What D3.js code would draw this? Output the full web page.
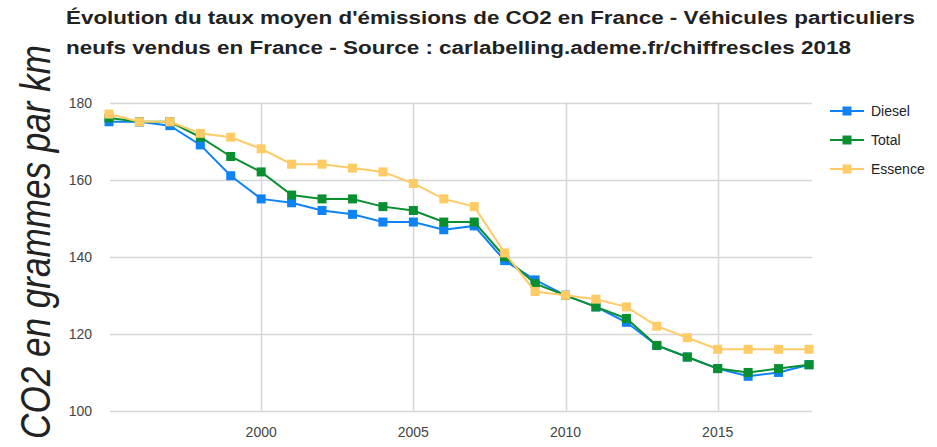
<!DOCTYPE html>
<html>
<head>
<meta charset="utf-8">
<script src="https://cdn.jsdelivr.net/npm/d3@7"></script>
<style>
  body { margin: 0; background: #fff; }
  svg { display: block; font-family: "Liberation Sans", Arial, sans-serif; }
</style>
</head>
<body>
<svg id="chart"></svg>
<script>
const width = 937;
const height = 447;

const years = [1995, 1996, 1997, 1998, 1999, 2000, 2001, 2002, 2003, 2004, 2005, 2006,
  2007, 2008, 2009, 2010, 2011, 2012, 2013, 2014, 2015, 2016, 2017, 2018];
const diesel = [175, 175, 174, 169, 161, 155, 154, 152, 151, 149, 149, 147,
  148, 139, 134, 130, 127, 123, 117, 114, 111, 109, 110, 112];
const total = [176, 175, 175, 171, 166, 162, 156, 155, 155, 153, 152, 149,
  149, 140, 133, 130, 127, 124, 117, 114, 111, 110, 111, 112];
const essence = [177, 175, 175, 172, 171, 168, 164, 164, 163, 162, 159, 155,
  153, 141, 131, 130, 129, 127, 122, 119, 116, 116, 116, 116];

const seriesNames = ["Diesel", "Total", "Essence"];
const seriesColors = ["#0f83f5", "#0a8f30", "#ffcb66"];
const yTicks = [100, 120, 140, 160, 180];
const xTicks = [2000, 2005, 2010, 2015];
const titleLines = [
  "Évolution du taux moyen d'émissions de CO2 en France - Véhicules particuliers",
  "neufs vendus en France - Source : carlabelling.ademe.fr/chiffrescles 2018"
];
const yTitle = "CO2 en grammes par km";

const series = [diesel, total, essence].map((vals, i) => ({
  name: seriesNames[i],
  color: seriesColors[i],
  values: vals.map((v, j) => ({ year: years[j], value: v }))
}));

const svg = d3.select("#chart").attr("width", width).attr("height", height);

const x = d3.scaleLinear().domain([1995, 2018]).range([109, 809]);
const y = d3.scaleLinear().domain([100, 180]).range([411, 102.5]);

// grid
svg.append("g")
  .selectAll("line")
  .data(yTicks)
  .join("line")
  .attr("x1", 110).attr("x2", 812)
  .attr("y1", d => Math.round(y(d)) + 0.5)
  .attr("y2", d => Math.round(y(d)) + 0.5)
  .attr("stroke", "#d6d6d6")
  .attr("stroke-width", 1.5);

svg.append("g")
  .selectAll("line")
  .data(xTicks)
  .join("line")
  .attr("x1", d => Math.round(x(d)) + 0.5)
  .attr("x2", d => Math.round(x(d)) + 0.5)
  .attr("y1", 102.5).attr("y2", 411)
  .attr("stroke", "#d6d6d6")
  .attr("stroke-width", 1.5);

// tick labels
svg.append("g")
  .selectAll("text")
  .data(yTicks)
  .join("text")
  .attr("x", 92)
  .attr("y", d => y(d) + 5)
  .attr("text-anchor", "end")
  .attr("font-size", 14)
  .attr("fill", "#444")
  .text(d => d);

svg.append("g")
  .selectAll("text")
  .data(xTicks)
  .join("text")
  .attr("x", d => x(d))
  .attr("y", 437)
  .attr("text-anchor", "middle")
  .attr("font-size", 14)
  .attr("fill", "#444")
  .text(d => d);

// lines + markers
const line = d3.line().x(d => x(d.year)).y(d => y(d.value));
const ms = 9;

series.forEach(s => {
  const g = svg.append("g");
  g.append("path")
    .datum(s.values)
    .attr("d", line)
    .attr("fill", "none")
    .attr("stroke", s.color)
    .attr("stroke-width", 2);
  g.selectAll("rect")
    .data(s.values)
    .join("rect")
    .attr("x", d => x(d.year) - ms / 2)
    .attr("y", d => y(d.value) - ms / 2)
    .attr("width", ms)
    .attr("height", ms)
    .attr("fill", s.color);
});

// legend
const legend = svg.append("g")
  .selectAll("g")
  .data(series)
  .join("g")
  .attr("transform", (d, i) => `translate(830, ${111 + i * 29})`);
legend.append("line")
  .attr("x1", 0).attr("x2", 34)
  .attr("stroke", d => d.color)
  .attr("stroke-width", 2);
legend.append("rect")
  .attr("x", 17 - ms / 2).attr("y", -ms / 2)
  .attr("width", ms).attr("height", ms)
  .attr("fill", d => d.color);
legend.append("text")
  .attr("x", 41).attr("y", 5)
  .attr("font-size", 14)
  .attr("fill", "#222")
  .text(d => d.name);

// title
svg.append("g")
  .selectAll("text")
  .data(titleLines)
  .join("text")
  .attr("x", 66)
  .attr("y", (d, i) => 24 + i * 30)
  .attr("font-size", 18)
  .attr("font-weight", "bold")
  .attr("fill", "#222")
  .attr("textLength", (d, i) => i === 0 ? 849 : 785)
  .attr("lengthAdjust", "spacingAndGlyphs")
  .text(d => d);

// y axis title, squeezed along its length with a transform so its box stays inside
const yt = svg.append("text")
  .attr("text-anchor", "middle")
  .attr("font-size", 42)
  .attr("font-style", "italic")
  .attr("fill", "#222")
  .text(yTitle);
const natural = yt.node().getComputedTextLength();
const sx = 394 / natural;
yt.attr("transform", `translate(50, 242) rotate(-90) scale(${sx}, 1)`);
</script>
</body>
</html>
